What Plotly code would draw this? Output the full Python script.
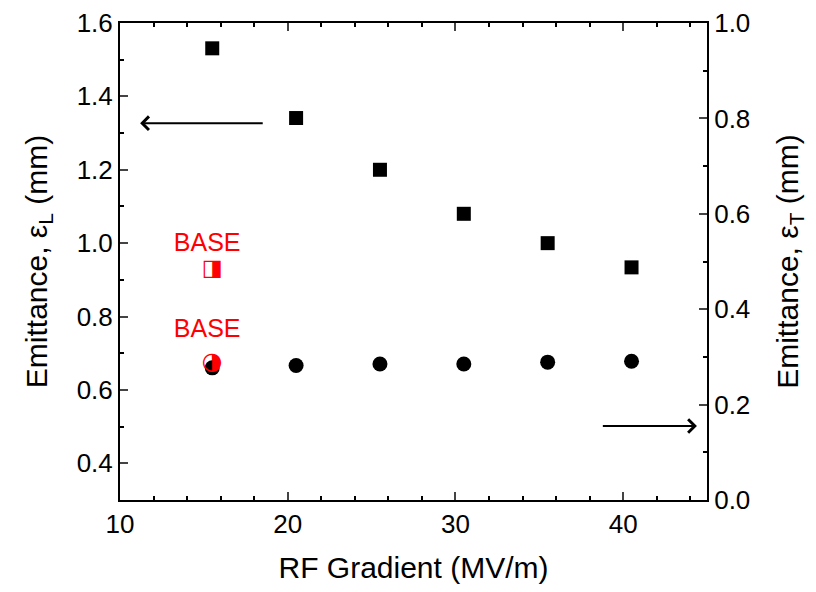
import plotly.graph_objects as go

gradient = [15.5, 20.5, 25.5, 30.5, 35.5, 40.5]
eps_L = [1.531, 1.341, 1.200, 1.080, 1.000, 0.934]
eps_T = [0.277, 0.282, 0.285, 0.285, 0.289, 0.291]
base_x = [15.5]
base_L = [0.929]
base_T = [0.288]
base_label = ["BASE"]
base_label_x = [15.2]
base_label_L = [0.997]
base_label_T = [0.354]

FONT = "Liberation Sans, Arial, sans-serif"

fig = go.Figure()
fig.add_trace(go.Scatter(x=gradient, y=eps_L, mode="markers",
                         marker=dict(symbol="square", size=14, color="black"),
                         showlegend=False))
fig.add_trace(go.Scatter(x=gradient, y=eps_T, mode="markers", yaxis="y2",
                         marker=dict(symbol="circle", size=15, color="black"),
                         showlegend=False))
fig.add_trace(go.Scatter(x=base_x, y=base_L, mode="text", text=["\u25E8"],
                         textposition="middle center",
                         textfont=dict(family="DejaVu Sans", size=22, color="red"),
                         showlegend=False))
fig.add_trace(go.Scatter(x=base_x, y=base_T, mode="text", yaxis="y2", text=["\u25D1"],
                         textposition="middle center",
                         textfont=dict(family="DejaVu Sans", size=24, color="red"),
                         showlegend=False))
fig.add_trace(go.Scatter(x=base_label_x, y=base_label_L, mode="text", text=base_label,
                         textposition="middle center",
                         textfont=dict(family=FONT, size=25, color="red"),
                         showlegend=False))
fig.add_trace(go.Scatter(x=base_label_x, y=base_label_T, mode="text", yaxis="y2", text=base_label,
                         textposition="middle center",
                         textfont=dict(family=FONT, size=25, color="red"),
                         showlegend=False))

tickfont = dict(family=FONT, size=26, color="black")
titlefont = dict(family=FONT, size=30, color="black")

fig.update_layout(
    width=800, height=576,
    margin=dict(l=112, r=101, t=15, b=84),
    paper_bgcolor="white", plot_bgcolor="white",
    xaxis=dict(range=[10, 45], dtick=10, tick0=0, ticks="inside", ticklen=8, tickwidth=2,
               showline=True, linewidth=2, linecolor="black", mirror="ticks",
               showgrid=False, zeroline=False, tickfont=tickfont, automargin=False,
               minor=dict(dtick=2, ticks="inside", ticklen=4, tickwidth=2, tickcolor="black"),
               title=dict(text="RF Gradient (MV/m)", font=titlefont, standoff=28)),
    yaxis=dict(range=[0.3, 1.6], dtick=0.2, tick0=0, tickformat=".1f",
               ticks="inside", ticklen=8, tickwidth=2, automargin=False,
               showline=True, linewidth=2, linecolor="black",
               showgrid=False, zeroline=False, tickfont=tickfont,
               minor=dict(dtick=0.1, ticks="inside", ticklen=4, tickwidth=2, tickcolor="black"),
               title=dict(text="Emittance, \u03b5<sub>L</sub> (mm)", font=titlefont, standoff=20)),
    yaxis2=dict(range=[0, 1.0], dtick=0.2, tick0=0, tickformat=".1f", overlaying="y", side="right",
                ticks="inside", ticklen=8, tickwidth=2, automargin=False,
                showline=True, linewidth=2, linecolor="black",
                showgrid=False, zeroline=False, tickfont=tickfont,
                minor=dict(dtick=0.1, ticks="inside", ticklen=4, tickwidth=2, tickcolor="black"),
                title=dict(text="Emittance, \u03b5<sub>T</sub> (mm)", font=titlefont, standoff=30)),
)

fig.add_annotation(x=11.2, y=1.327, ax=18.6, ay=1.327, xref="x", yref="y", axref="x", ayref="y",
                   showarrow=True, arrowhead=4, arrowsize=1.3, arrowwidth=2, arrowcolor="black", text="")
fig.add_annotation(x=44.4, y=0.155, ax=38.7, ay=0.155, xref="x", yref="y2", axref="x", ayref="y2",
                   showarrow=True, arrowhead=4, arrowsize=1.3, arrowwidth=2, arrowcolor="black", text="")

fig.write_html("out.html")
